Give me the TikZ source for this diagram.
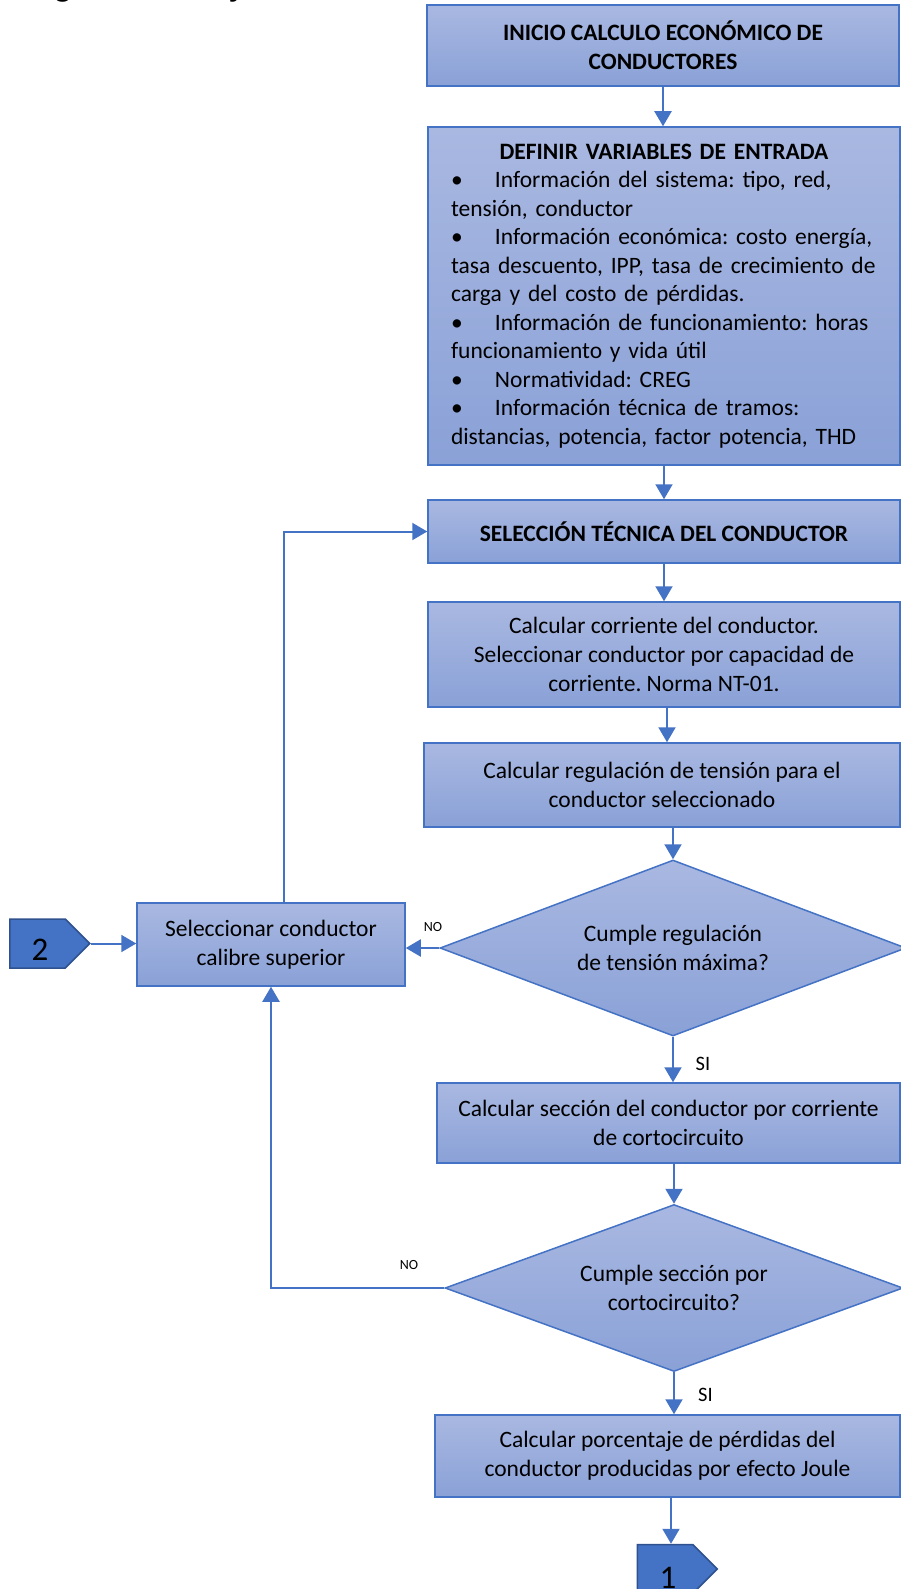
\documentclass[tikz,border=0pt]{standalone}
\usepackage{fontspec}
\setmainfont{Carlito}
\usetikzlibrary{arrows.meta,shapes.geometric,shapes.symbols}
\definecolor{bord}{HTML}{4472C4}
\definecolor{btop}{HTML}{A9B8E1}
\definecolor{bbot}{HTML}{8AA1D7}
\definecolor{cdark}{HTML}{2F528F}
\frenchspacing
\begin{document}
\frenchspacing
\begin{tikzpicture}[x=1pt,y=-1pt,
  box/.style={draw=bord, line width=1.5pt, top color=btop, bottom color=bbot, inner sep=0pt, align=center, font=\fontsize{23.5}{29}\selectfont},
  dia/.style={diamond, aspect=2.65, draw=bord, line width=1.5pt, top color=btop, bottom color=bbot, inner sep=0pt, align=center, font=\fontsize{23.5}{29}\selectfont},
  arr/.style={draw=bord, line width=2pt, -{Triangle[length=15pt,width=17pt]}},
  lblsi/.style={inner sep=0pt, font=\fontsize{20.5}{24}\selectfont},
  lblno/.style={inner sep=0pt, font=\fontsize{14}{16}\selectfont},
  conn/.style={signal, signal to=east, signal from=nowhere, signal pointer angle=90, draw=cdark, line width=1.5pt, fill=bord, minimum width=80pt, minimum height=49pt, inner sep=0pt},
  digit/.style={inner sep=0pt, font=\fontsize{33}{38}\selectfont}
]
\useasboundingbox (0,0) rectangle (901,1589);
\clip (0,0) rectangle (901,1589);

% cut title
\node[anchor=base west, inner sep=0pt, font=\bfseries\fontsize{34}{40}\selectfont] (title) at (8,-3) {Diagrama de flujo};

% boxes
\node[box, minimum width=472pt, minimum height=81pt, font=\bfseries\fontsize{23.5}{29}\selectfont] (b1) at (663,45.5)
  {INICIO CALCULO ECONÓMICO DE\\CONDUCTORES};

\node[box, minimum width=472pt, minimum height=338pt, text width=426pt, align=left, font=\fontsize{23.5}{28.5}\selectfont] (b2) at (664,296)
  {{\centering\bfseries DEFINIR VARIABLES DE ENTRADA\par}
   \makebox[44pt][l]{\textbullet}Información del sistema: tipo, red,\\
   tensión, conductor\\
   \makebox[44pt][l]{\textbullet}Información económica: costo energía,\\
   tasa descuento, IPP, tasa de crecimiento de\\
   carga y del costo de pérdidas.\\
   \makebox[44pt][l]{\textbullet}Información de funcionamiento: horas\\
   funcionamiento y vida útil\\
   \makebox[44pt][l]{\textbullet}Normatividad: CREG\\
   \makebox[44pt][l]{\textbullet}Información técnica de tramos:\\
   distancias, potencia, factor potencia, THD};

\node[box, minimum width=472pt, minimum height=63pt, font=\bfseries\fontsize{23.5}{29}\selectfont] (b3) at (664,531.5)
  {SELECCIÓN TÉCNICA DEL CONDUCTOR};

\node[box, minimum width=472pt, minimum height=105pt] (b4) at (664,654.5)
  {Calcular corriente del conductor.\\Seleccionar conductor por capacidad de\\corriente. Norma NT-01.};

\node[box, minimum width=476pt, minimum height=84pt] (b5) at (662,785)
  {Calcular regulación de tensión para el\\conductor seleccionado};

\node[dia, minimum width=466pt, minimum height=176pt] (d1) at (673,948)
  {Cumple regulación\\de tensión máxima?};

\node[box, minimum width=268pt, minimum height=83pt] (b6) at (271,944.5)
  {Seleccionar conductor\\calibre superior};

\node[box, minimum width=463pt, minimum height=80pt] (b7) at (668.5,1123)
  {Calcular sección del conductor por corriente\\de cortocircuito};

\node[dia, minimum width=458pt, minimum height=167pt] (d2) at (674,1288)
  {Cumple sección por\\cortocircuito?};

\node[box, minimum width=465pt, minimum height=82pt] (b8) at (667.5,1456)
  {Calcular porcentaje de pérdidas del\\conductor producidas por efecto Joule};

% off-page connectors
\node[conn] (c2) at (37.5,943.5) {};
\node[digit] (c2t) at (40,949.5) {2};
\node[conn] (c1) at (665,1569) {};
\node[digit] (c1t) at (668,1578) {1};

% connectors
\draw[arr] (b1.south) -- (b1.south |- b2.north);
\draw[arr] (b2.south) -- (b2.south |- b3.north);
\draw[arr] (b3.south) -- (b3.south |- b4.north);
\draw[arr] ([xshift=3pt]b4.south) -- ([xshift=3pt]b4.south |- b5.north);
\draw[arr] (b5.south -| d1.north) -- (d1.north);
\draw[arr] (d1.south) -- (d1.south |- b7.north);
\draw[arr] (b7.south -| d2.north) -- (d2.north);
\draw[arr] (d2.south) -- (d2.south |- b8.north);
\draw[arr] ([xshift=3pt]b8.south -| c1t) -- ([xshift=3pt]c1t |- c1.north);
\draw[arr] (d1.west) -- (d1.west -| b6.east);
\draw[arr] ([xshift=13pt]b6.north) |- (b3.west);
\draw[arr] (d2.west) -| (b6.south);
\draw[arr] (c2.east) -- (c2.east -| b6.west);

% labels
\node[lblno] (no1) at (433,927) {NO};
\node[lblno] (no2) at (409,1264.5) {NO};
\node[lblsi] (si1) at (703,1064) {SI};
\node[lblsi] (si2) at (705.5,1395) {SI};
\end{tikzpicture}
\end{document}
